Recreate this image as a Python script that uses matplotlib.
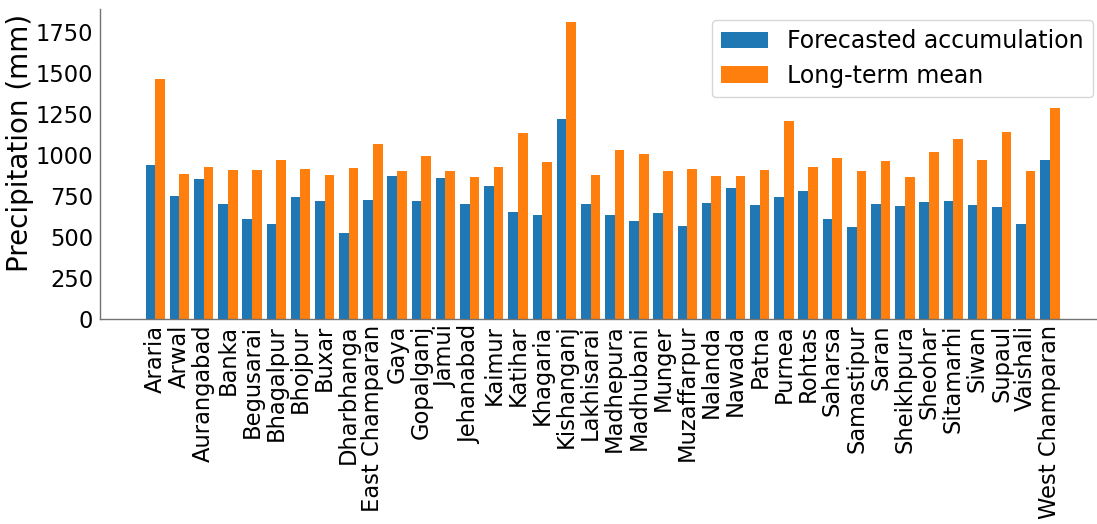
import numpy as np
import matplotlib
matplotlib.use("Agg")
import matplotlib.pyplot as plt

districts = ["Araria", "Arwal", "Aurangabad", "Banka", "Begusarai", "Bhagalpur",
             "Bhojpur", "Buxar", "Dharbhanga", "East Champaran", "Gaya", "Gopalganj",
             "Jamui", "Jehanabad", "Kaimur", "Katihar", "Khagaria", "Kishanganj",
             "Lakhisarai", "Madhepura", "Madhubani", "Munger", "Muzaffarpur", "Nalanda",
             "Nawada", "Patna", "Purnea", "Rohtas", "Saharsa", "Samastipur", "Saran",
             "Sheikhpura", "Sheohar", "Sitamarhi", "Siwan", "Supaul", "Vaishali",
             "West Champaran"]

forecast = [939, 752, 857, 703, 613, 581, 746, 721, 528, 729, 874, 723,
            863, 705, 811, 656, 634, 1223, 703, 634, 599, 650, 567, 707,
            799, 699, 748, 782, 613, 561, 703, 689, 715, 721, 699, 683, 581, 969]

long_term = [1465, 884, 927, 912, 912, 969, 918, 880, 921, 1069, 904, 994,
             904, 866, 927, 1134, 959, 1812, 878, 1032, 1006, 904, 915, 876,
             874, 910, 1207, 927, 986, 904, 964, 870, 1022, 1097, 969, 1140, 904, 1288]

plt.rcParams['font.family'] = ['DejaVu Sans']
fs_tick = 16.3
fs_leg = 17
fs_label = 20

W, H = 1097, 524
fig = plt.figure(figsize=(W / 100, H / 100), dpi=100)
left_px, right_px, top_px, bottom_px = 100, 1104, 9.3, 319.3
ax = fig.add_axes([left_px / W, 1 - bottom_px / H,
                   (right_px - left_px) / W, (bottom_px - top_px) / H])

x = np.arange(len(districts))
w = 0.4
ax.bar(x - w / 2, forecast, width=w, color='#1f77b4', label='Forecasted accumulation')
ax.bar(x + w / 2, long_term, width=w, color='#ff7f0e', label='Long-term mean')

ppu = 24.18
ax.set_xlim((left_px - 155.3) / ppu, (right_px - 155.3) / ppu)
ax.set_ylim(0, 1890)

ax.set_xticks(x)
ax.set_xticklabels(districts, rotation=90, fontsize=fs_tick)
ax.set_yticks([0, 250, 500, 750, 1000, 1250, 1500, 1750])
ax.tick_params(axis='y', labelsize=fs_tick, length=0, pad=5)
ax.tick_params(axis='x', length=0, pad=4)
ax.set_ylabel('Precipitation (mm)', fontsize=fs_label)
ax.yaxis.set_label_coords((34 - left_px) / (right_px - left_px),
                          (bottom_px - 143) / (bottom_px - top_px))

for s in ['top', 'right']:
    ax.spines[s].set_visible(False)
for s in ['left', 'bottom']:
    ax.spines[s].set_color('0.45')
    ax.spines[s].set_linewidth(1.0)

ax.legend(loc='upper right', fontsize=fs_leg, frameon=True, handlelength=2.0,
          labelspacing=0.45, borderaxespad=0.45)

fig.savefig('out.png', dpi=100)
